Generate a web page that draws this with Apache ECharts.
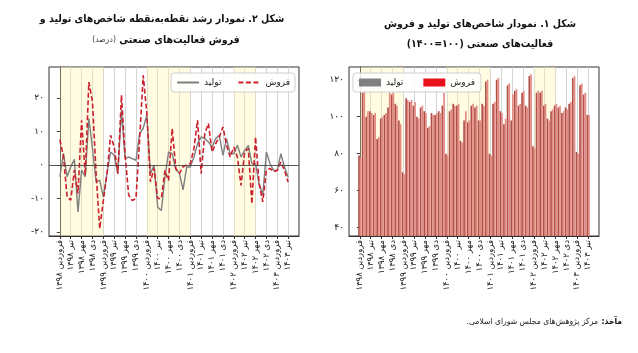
<!DOCTYPE html>
<html>
<head>
<meta charset="utf-8">
<script src="https://cdn.jsdelivr.net/npm/echarts@6/dist/echarts.min.js"></script>
<style>
  html, body { margin: 0; padding: 0; background: #fff; }
  #main { width: 638px; height: 353px; }
</style>
</head>
<body>
<div id="main"></div>
<script>
// quarterly tick labels, one every 3 months (Farvardin 1398 .. Tir 1403)
const tickLabels = [
  'فروردین ۱۳۹۸', 'تیر ۱۳۹۸', 'مهر ۱۳۹۸', 'دی ۱۳۹۸',
  'فروردین ۱۳۹۹', 'تیر ۱۳۹۹', 'مهر ۱۳۹۹', 'دی ۱۳۹۹',
  'فروردین ۱۴۰۰', 'تیر ۱۴۰۰', 'مهر ۱۴۰۰', 'دی ۱۴۰۰',
  'فروردین ۱۴۰۱', 'تیر ۱۴۰۱', 'مهر ۱۴۰۱', 'دی ۱۴۰۱',
  'فروردین ۱۴۰۲', 'تیر ۱۴۰۲', 'مهر ۱۴۰۲', 'دی ۱۴۰۲',
  'فروردین ۱۴۰۳', 'تیر ۱۴۰۳'
];
const monthsPerTick = 3;

// shaded periods (month index from, to)
const shadeRanges = [[0, 12], [24, 36], [48, 54]];

// fig 2: point-to-point growth, percent
const growthProd = [
  -3.5, 3.5, -3.5, -0.5, 1.7, -14, -1.5, -3.5, 13.9, 5, -5, -4.5,
  -9.5, -2.6, 3.9, 2.9, -2.6, 16.4, 2, 2.4, 1.9, 1.4, 9.4, 11,
  15, -2.6, 0, -12.6, -13.6, -3.6, 3.9, 3.4, -1.4, -2.4, -7.4, -0.6,
  -0.6, 2.4, 6.4, 8.4, 7.9, 6.9, 5.4, 7.9, 8.9, 2.9, 7.9, 3.4,
  3.4, 5.9, 2.4, 4.4, 5.9, 0.4, 0.4, -5.6, -9, 3.9, 0.4, -1.6,
  -1.6, 3.4, -0.6, -3.6
];
const growthSales = [
  7.6, 2.5, -9.5, -10.5, -1.5, -8.5, 13.4, -3, 24.8, 18.9, -2.6, -19,
  -10.6, -2.6, 8.9, 5.4, -2.6, 20.9, 3, -9, -10.6, -10, 7.4, 26.8,
  15.4, -5, -1, -10, -10, -1.6, -4.6, 10.9, -1, -2.5, -0.5, 0,
  0.4, 4.9, 13.4, -2.6, 9.4, 12.4, 3.9, 6.4, 8.4, 11.4, 6, 2.4,
  5.4, 2.4, -6.1, 3.9, 4.9, -11.6, 8.4, -5.6, -11, -1.6, -1, -2,
  -1.6, 0.9, -1.6, -5.1
];

// fig 1: index values (1400 = 100)
const indexProd = [
  79, 113, 100, 103, 101, 88, 99, 101, 105, 112, 107, 98,
  70, 110, 108, 106, 100, 105, 103, 94, 102, 101, 103, 106,
  80, 103, 107, 106, 87, 98, 97, 106, 105, 98, 107, 119,
  80, 107, 120, 103, 96, 117, 98, 114, 106, 113, 106, 122,
  84, 113, 113, 106, 99, 103, 106, 105, 102, 105, 107, 121,
  81, 117, 112, 101
];
const indexSales = [
  78, 114, 103, 102, 102, 89, 100, 102, 113, 113, 106, 96,
  69, 109, 109, 108, 99, 106, 102, 95, 101, 102, 102, 113,
  79, 104, 106, 107, 86, 103, 98, 107, 106, 98, 106, 120,
  79, 108, 121, 102, 99, 118, 112, 115, 107, 114, 105, 123,
  83, 114, 114, 107, 98, 104, 107, 106, 103, 104, 108, 122,
  80, 118, 113, 101
];

const growthTicks = [-20, -10, 0, 10, 20];
const indexTicks = [40, 60, 80, 100, 120];

const FONT = 'DejaVu Sans';
const TFONT = '"DejaVu Sans Condensed", "DejaVu Sans"';
const fa = s => String(s).replace(/\d/g, d => '۰۱۲۳۴۵۶۷۸۹'[d]);
const faNum = v => (v < 0 ? '-' + fa(-v) : fa(v));
const pairs = arr => arr.map((v, i) => [i, v]);
const tickPos = tickLabels.map((_, k) => k * monthsPerTick);

var dom = document.getElementById('main');
var myChart = echarts.init(dom, null, { renderer: 'canvas' });

function xAxisFor(gridIndex) {
  return {
    type: 'value', gridIndex: gridIndex,
    min: -3, max: 66, interval: 3,
    axisLine: { show: true, onZero: false, lineStyle: { color: '#333', width: 1 } },
    axisTick: { show: true, customValues: tickPos, length: 3, lineStyle: { color: '#333' } },
    axisLabel: {
      customValues: tickPos, rotate: 90, margin: 4,
      fontFamily: FONT, fontSize: 8.5, color: '#222',
      formatter: v => tickLabels[Math.round(v / monthsPerTick)] || ''
    },
    splitLine: { show: true, lineStyle: { color: '#c9c9c9', width: 0.8 } }
  };
}

function yAxisFor(gridIndex, min, max, ticks) {
  return {
    type: 'value', gridIndex: gridIndex, min: min, max: max,
    axisLine: { show: true, lineStyle: { color: '#333', width: 1 } },
    axisTick: { show: true, customValues: ticks, length: 3, lineStyle: { color: '#333' } },
    axisLabel: {
      customValues: ticks, margin: 5,
      fontFamily: FONT, fontSize: 9, color: '#222',
      formatter: v => faNum(v)
    },
    splitLine: { show: false }
  };
}

const shadeArea = {
  silent: true,
  itemStyle: { color: 'rgba(255, 245, 170, 0.34)' },
  data: shadeRanges.map(r => [{ xAxis: r[0] }, { xAxis: r[1] }])
};

var option = {
  animation: false,
  backgroundColor: '#fff',
  textStyle: { fontFamily: FONT },
  grid: [
    { left: 49, top: 67, width: 250, height: 169, show: true, borderColor: '#333', borderWidth: 1 },
    { left: 349, top: 67, width: 250, height: 169, show: true, borderColor: '#333', borderWidth: 1 }
  ],
  xAxis: [xAxisFor(0), xAxisFor(1)],
  yAxis: [
    yAxisFor(0, -21.2, 29.3, growthTicks),
    yAxisFor(1, 35.5, 126.9, indexTicks)
  ],
  legend: [
    {
      data: ['تولید', 'فروش'],
      right: 343, top: 73,
      itemWidth: 22, itemHeight: 2, itemGap: 16,
      padding: [5, 5],
      backgroundColor: 'rgba(255,255,255,0.85)',
      borderColor: '#cfcfcf', borderWidth: 1, borderRadius: 3,
      textStyle: { fontFamily: FONT, fontSize: 9, color: '#222' }
    },
    {
      data: [
        { name: 'شاخص تولید', icon: 'rect', itemStyle: { color: '#808080' } },
        { name: 'شاخص فروش', icon: 'rect', itemStyle: { color: '#e8101a' } }
      ],
      left: 353, top: 73,
      itemWidth: 22, itemHeight: 8, itemGap: 20,
      padding: [5, 6],
      backgroundColor: 'rgba(255,255,255,0.85)',
      borderColor: '#cfcfcf', borderWidth: 1, borderRadius: 3,
      formatter: name => name.replace('شاخص ', ''),
      textStyle: { fontFamily: FONT, fontSize: 9, color: '#222' }
    }
  ],
  series: [
    {
      name: 'تولید', type: 'line', xAxisIndex: 0, yAxisIndex: 0,
      data: pairs(growthProd), symbol: 'none',
      lineStyle: { color: '#7f7f7f', width: 1.4 },
      itemStyle: { color: '#7f7f7f' },
      markArea: shadeArea,
      markLine: {
        silent: true, symbol: 'none', label: { show: false },
        lineStyle: { color: '#444', width: 0.9, type: 'solid' },
        data: [{ yAxis: 0 }]
      }
    },
    {
      name: 'فروش', type: 'line', xAxisIndex: 0, yAxisIndex: 0,
      data: pairs(growthSales), symbol: 'none',
      lineStyle: { color: '#cc1f2c', width: 1.6, type: [5, 2.5] },
      itemStyle: { color: '#cc1f2c' }
    },
    {
      name: 'شاخص تولید', type: 'bar', xAxisIndex: 1, yAxisIndex: 1,
      data: pairs(indexProd), barWidth: 1.7, barGap: '0%',
      itemStyle: { color: '#b0504a' },
      markArea: shadeArea
    },
    {
      name: 'شاخص فروش', type: 'bar', xAxisIndex: 1, yAxisIndex: 1,
      data: pairs(indexSales), barWidth: 1.7, barGap: '0%',
      itemStyle: { color: '#e58a80' }
    }
  ],
  graphic: [
    {
      type: 'text', x: 162, y: 19,
      style: {
        text: 'شکل ۲. نمودار رشد نقطه‌به‌نقطه شاخص‌های تولید و',
        font: 'bold 10.5px ' + TFONT, fill: '#111',
        align: 'center', verticalAlign: 'middle'
      }
    },
    {
      type: 'text', x: 166, y: 40,
      style: {
        text: '{r|(درصد)} {b|فروش فعالیت‌های صنعتی}',
        align: 'center', verticalAlign: 'middle',
        rich: {
          r: { fontFamily: TFONT, fontSize: 8.5, fill: '#444' },
          b: { fontFamily: TFONT, fontSize: 10.5, fontWeight: 'bold', fill: '#111' }
        }
      }
    },
    {
      type: 'text', x: 480, y: 24,
      style: {
        text: 'شکل ۱. نمودار شاخص‌های تولید و فروش',
        font: 'bold 10.5px ' + TFONT, fill: '#111',
        align: 'center', verticalAlign: 'middle'
      }
    },
    {
      type: 'text', x: 480, y: 44,
      style: {
        text: 'فعالیت‌های صنعتی (۱۰۰=۱۴۰۰)',
        font: 'bold 10.5px ' + TFONT, fill: '#111',
        align: 'center', verticalAlign: 'middle'
      }
    },
    {
      type: 'text', x: 622, y: 322,
      style: {
        text: '{r|مرکز پژوهش‌های مجلس شورای اسلامی.\u200F} {b|مآخذ:\u200F}',
        align: 'right', verticalAlign: 'middle',
        rich: {
          r: { fontFamily: TFONT, fontSize: 8.5, fill: '#222' },
          b: { fontFamily: TFONT, fontSize: 8.5, fontWeight: 'bold', fill: '#111' }
        }
      }
    }
  ]
};

if (option && typeof option === 'object') {
  myChart.setOption(option);
}
window.addEventListener('resize', myChart.resize);
</script>
</body>
</html>
